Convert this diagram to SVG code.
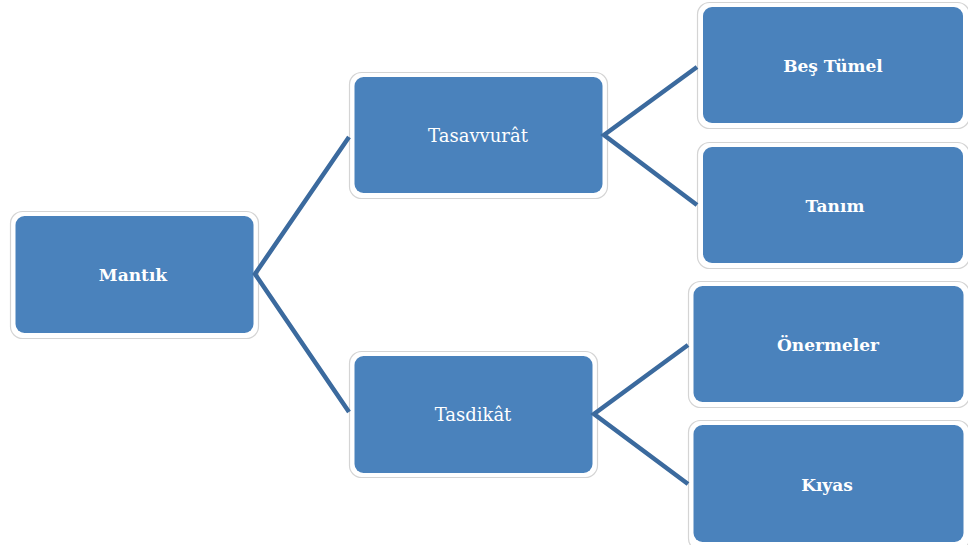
<svg xmlns="http://www.w3.org/2000/svg" width="968" height="545" viewBox="0 0 968 545">
<style>
.outer{fill:#ffffff;stroke:#d4d4d4;stroke-width:1.2}
.inner{fill:#4a82bc}
.t{font-family:"DejaVu Serif","Liberation Serif",serif;font-size:18px;fill:#ffffff;text-anchor:middle}
.b{font-weight:bold;font-size:17px}
.c{fill:none;stroke:#3b6a9e;stroke-width:4.5;stroke-linejoin:miter}
</style>
<rect width="968" height="545" fill="#ffffff"/>
<g id="mantik">
<rect class="outer" x="10.5" y="211.5" width="248" height="127" rx="12"/>
<rect class="inner" x="15.5" y="216" width="238" height="117" rx="9"/>
<text class="t b" x="133" y="281">Mantık</text>
</g>
<g id="tasavvurat">
<rect class="outer" x="349.5" y="72.5" width="258" height="126" rx="12"/>
<rect class="inner" x="354.5" y="77" width="248" height="116" rx="9"/>
<text class="t" x="478" y="142">Tasavvurât</text>
</g>
<g id="tasdikat">
<rect class="outer" x="349.5" y="351.5" width="248" height="126" rx="12"/>
<rect class="inner" x="354.5" y="356" width="238" height="117" rx="9"/>
<text class="t" x="473" y="421">Tasdikât</text>
</g>
<g id="bes-tumel">
<rect class="outer" x="697.5" y="2.5" width="272" height="126" rx="12"/>
<rect class="inner" x="703" y="7" width="260" height="116" rx="9"/>
<text class="t b" x="833" y="72">Beş Tümel</text>
</g>
<g id="tanim">
<rect class="outer" x="697.5" y="142.5" width="272" height="126" rx="12"/>
<rect class="inner" x="703" y="147" width="260" height="116" rx="9"/>
<text class="t b" x="835" y="212">Tanım</text>
</g>
<g id="onermeler">
<rect class="outer" x="688.5" y="281.5" width="281" height="126" rx="12"/>
<rect class="inner" x="693.5" y="286" width="270" height="116" rx="9"/>
<text class="t b" x="828" y="351">Önermeler</text>
</g>
<g id="kiyas">
<rect class="outer" x="688.5" y="420.5" width="281" height="130" rx="12"/>
<rect class="inner" x="693.5" y="425" width="270" height="117" rx="9"/>
<text class="t b" x="827" y="491">Kıyas</text>
</g>
<g id="connectors">
<polyline class="c" points="349,137 255,274 349,412"/>
<polyline class="c" points="697,67 604,135 697,205"/>
<polyline class="c" points="688,345 594,414 688,484"/>
</g>
</svg>
